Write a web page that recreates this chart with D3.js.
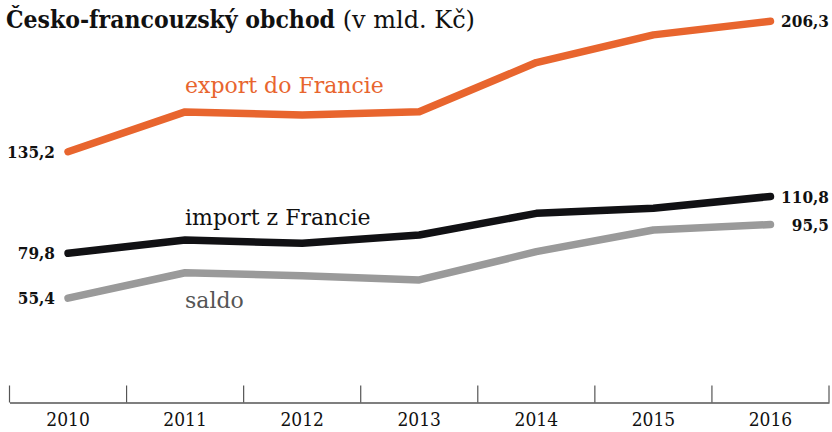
<!DOCTYPE html>
<html><head><meta charset="utf-8">
<script src="https://cdn.jsdelivr.net/npm/d3@7"></script>
<style>
body{margin:0;background:#fff;}
svg{display:block;}
</style></head>
<body><svg id="c" width="832" height="432"></svg>
<script>
const years = ["2010","2011","2012","2013","2014","2015","2016"];
const exportVals = [135.2, 156.9, 155.2, 157.0, 183.8, 198.9, 206.3];
const importVals = [79.8, 87.1, 85.3, 89.8, 101.6, 104.4, 110.8];
const saldoVals = [55.4, 69.2, 67.6, 65.3, 80.7, 92.5, 95.5];
const seriesNames = ["export do Francie", "import z Francie", "saldo"];
const endLabels = [["135,2","206,3"],["79,8","110,8"],["55,4","95,5"]];

const svg = d3.select("#c");
const serifC = "'DejaVu Serif Condensed','DejaVu Serif',serif";
const serif = "'DejaVu Serif',serif";

const x = d3.scaleBand().domain(years).range([9.5, 829]);
const y = d3.scaleLinear().domain([0, 206.3]).range([399.7, 21.3]);

const series = [
  {name: seriesNames[0], vals: exportVals, color: "#e8652e", labelColor: "#e8652e", lx: 185, ly: 93, ends: endLabels[0]},
  {name: seriesNames[1], vals: importVals, color: "#111114", labelColor: "#111", lx: 185, ly: 225, ends: endLabels[1]},
  {name: seriesNames[2], vals: saldoVals, color: "#9a9a9a", labelColor: "#555", lx: 185, ly: 308, ends: endLabels[2]}
];

// title
const t = svg.append("text").attr("x", 6).attr("y", 28)
  .style("font-size", "24px").attr("fill", "#111");
t.append("tspan").style("font-family", serifC).style("font-weight", "bold").style("font-size","24.5px").text("Česko-francouzský obchod");
t.append("tspan").style("font-family", serif).text(" (v mld. Kč)");

// axis
const axis = d3.axisBottom(x).tickSize(0).tickPadding(10);
const gAxis = svg.append("g").attr("transform", "translate(0,402.5)").call(axis);
gAxis.select(".domain").attr("stroke", "#555").attr("stroke-width", 1.5);
gAxis.selectAll(".tick text").style("font-family", serifC).style("font-size", "19px").attr("fill", "#111");
const bounds = [...years.map(d => x(d)), x.range()[1]];
gAxis.selectAll(".sep").data(bounds).join("line").attr("class","sep")
  .attr("x1", d => d).attr("x2", d => d).attr("y1", 0).attr("y2", -17)
  .attr("stroke", "#555").attr("stroke-width", 1.2);

const line = d3.line().x((d,i) => x(years[i]) + x.bandwidth()/2).y(d => y(d));

series.forEach(s => {
  svg.append("path").datum(s.vals).attr("d", line)
    .attr("fill","none").attr("stroke", s.color).attr("stroke-width", 7.5)
    .attr("stroke-linecap","round").attr("stroke-linejoin","round");
  svg.append("text").attr("x", s.lx).attr("y", s.ly).text(s.name)
    .style("font-family", serif).style("font-size", "22px").attr("fill", s.labelColor);
  svg.append("text").attr("x", 55).attr("y", y(s.vals[0])).attr("dy","0.36em")
    .attr("text-anchor","end").text(s.ends[0])
    .style("font-family", serifC).style("font-weight","bold").style("font-size","17px").attr("fill","#111");
  svg.append("text").attr("x", 829).attr("y", y(s.vals[6])).attr("dy","0.36em")
    .attr("text-anchor","end").text(s.ends[1])
    .style("font-family", serifC).style("font-weight","bold").style("font-size","17px").attr("fill","#111");
});
</script></body></html>
